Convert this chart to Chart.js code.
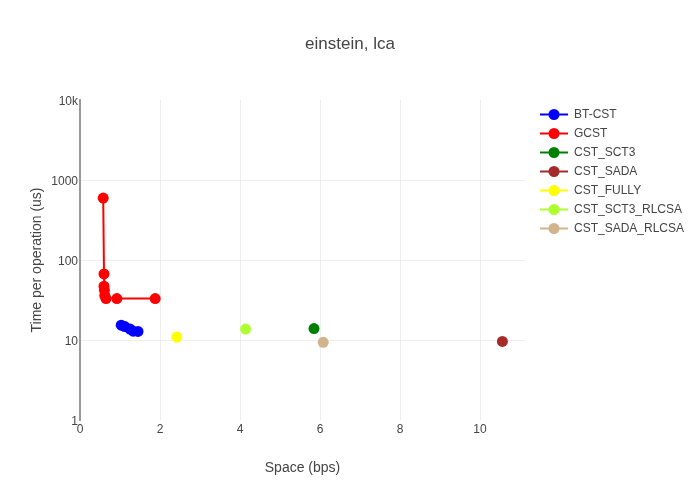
<!DOCTYPE html>
<html>
<head>
<meta charset="utf-8">
<script src="https://cdn.jsdelivr.net/npm/chart.js@4"></script>
<style>
  html, body { margin: 0; padding: 0; background: #fff; }
  #wrap { width: 700px; height: 500px; }
</style>
</head>
<body>
<div id="wrap"><canvas id="chart" width="700" height="500"></canvas></div>
<script>
// series (space in bps, time per op in us)
const seriesNames = ["BT-CST", "GCST", "CST_SCT3", "CST_SADA", "CST_FULLY", "CST_SCT3_RLCSA", "CST_SADA_RLCSA"];
const seriesColors = ["#0000ff", "#ff0000", "#008000", "#a52a2a", "#ffff00", "#adff2f", "#d2b48c"];

const btX = [1.03, 1.12, 1.25, 1.33, 1.45];
const btY = [15.3, 14.7, 13.7, 12.9, 12.8];
const gcstX = [0.58, 0.60, 0.60, 0.61, 0.62, 0.65, 0.92, 1.88];
const gcstY = [595, 67, 47, 42, 36, 33, 33, 33];
const sct3X = [5.85], sct3Y = [13.9];
const sadaX = [10.56], sadaY = [9.6];
const fullyX = [2.42], fullyY = [10.9];
const sct3RlcsaX = [4.14], sct3RlcsaY = [13.7];
const sadaRlcsaX = [6.08], sadaRlcsaY = [9.36];

const xTicks = [0, 2, 4, 6, 8, 10];
const yTicks = [1, 10, 100, 1000, 10000];

const seriesX = [btX, gcstX, sct3X, sadaX, fullyX, sct3RlcsaX, sadaRlcsaX];
const seriesY = [btY, gcstY, sct3Y, sadaY, fullyY, sct3RlcsaY, sadaRlcsaY];

const FONT = "'Liberation Sans', Arial, sans-serif";

const datasets = seriesNames.map(function (name, i) {
  return {
    label: name,
    data: seriesX[i].map(function (x, j) { return { x: x, y: seriesY[i][j] }; }),
    borderColor: seriesColors[i],
    backgroundColor: seriesColors[i],
    borderWidth: 2,
    pointRadius: 5.5,
    pointHoverRadius: 5.5,
    pointBorderWidth: 0,
    showLine: true,
    fill: false
  };
});

// title centered on the whole canvas + plotly-like legend on the right
const decorations = {
  id: "decorations",
  afterDraw(chart) {
    const ctx = chart.ctx;
    ctx.save();
    ctx.fillStyle = "#444";
    ctx.font = "17px " + FONT;
    ctx.textAlign = "center";
    ctx.textBaseline = "middle";
    ctx.fillText("einstein, lca", 350, 44);

    chart.data.datasets.forEach(function (ds, i) {
      const y = 114.5 + i * 19;
      ctx.strokeStyle = ds.borderColor;
      ctx.lineWidth = 2;
      ctx.beginPath();
      ctx.moveTo(540, y);
      ctx.lineTo(568, y);
      ctx.stroke();
      ctx.fillStyle = ds.backgroundColor;
      ctx.beginPath();
      ctx.arc(554, y, 5.5, 0, Math.PI * 2);
      ctx.fill();
      ctx.fillStyle = "#444";
      ctx.font = "12px " + FONT;
      ctx.textAlign = "left";
      ctx.textBaseline = "middle";
      ctx.fillText(ds.label, 574, y);
    });
    ctx.restore();
  }
};

new Chart(document.getElementById("chart").getContext("2d"), {
  type: "scatter",
  data: { datasets: datasets },
  plugins: [decorations],
  options: {
    responsive: false,
    animation: false,
    layout: { padding: { left: 0, right: 175, top: 100, bottom: 0 } },
    plugins: {
      legend: { display: false },
      tooltip: { enabled: false },
      title: { display: false }
    },
    scales: {
      x: {
        type: "linear",
        min: 0,
        max: 11.125,
        afterFit(scale) { scale.height = 80; },
        afterBuildTicks(scale) { scale.ticks = xTicks.map(function (v) { return { value: v }; }); },
        ticks: {
          color: "#444",
          font: { family: FONT, size: 12 },
          padding: 2,
          maxRotation: 0
        },
        grid: {
          drawTicks: false,
          color: function (c) { return c.tick && c.tick.value === 0 ? "rgba(0,0,0,0)" : "#eeeeee"; },
          lineWidth: 1
        },
        border: { display: false },
        title: {
          display: true,
          text: "Space (bps)",
          color: "#444",
          font: { family: FONT, size: 14 },
          padding: { top: 0, bottom: 23.6 }
        }
      },
      y: {
        type: "logarithmic",
        min: 1,
        max: 10000,
        afterFit(scale) { scale.width = 80; },
        afterBuildTicks(scale) { scale.ticks = yTicks.map(function (v) { return { value: v }; }); },
        ticks: {
          color: "#444",
          font: { family: FONT, size: 12 },
          padding: 2,
          labelOffset: 1.5,
          callback: function (v) { return v >= 10000 ? (v / 1000) + "k" : String(v); }
        },
        grid: {
          drawTicks: false,
          color: function (c) {
            const v = c.tick && c.tick.value;
            return (v === 1 || v === 10000) ? "rgba(0,0,0,0)" : "#eeeeee";
          },
          lineWidth: 1
        },
        border: { display: true, color: "#999", width: 2 },
        title: {
          display: true,
          text: "Time per operation (us)",
          color: "#444",
          font: { family: FONT, size: 14 },
          padding: { top: 29, bottom: 0 }
        }
      }
    }
  }
});
</script>
</body>
</html>
